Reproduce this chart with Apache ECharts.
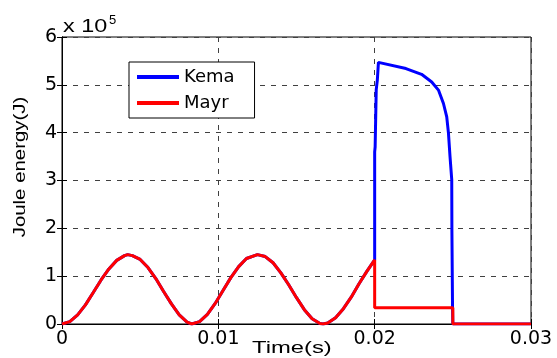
<!DOCTYPE html>
<html>
<head>
<meta charset="utf-8">
<script src="https://cdn.jsdelivr.net/npm/echarts@6/dist/echarts.min.js"></script>
<style>
  html, body { margin: 0; padding: 0; background: #fff; }
  #chart { width: 557px; height: 358px; }
</style>
</head>
<body>
<div id="chart"></div>
<script>
// values in units of 1e5 J
// common part (both models overlap up to t = 0.02 s)
const sharedT = [0, 0.0005, 0.001, 0.0015, 0.002, 0.0025, 0.003, 0.0035, 0.004, 0.0042, 0.0045, 0.005, 0.0055, 0.006, 0.0065, 0.007, 0.0075, 0.008, 0.0083,
  0.0088, 0.0093, 0.0098, 0.0103, 0.0108, 0.0113, 0.0118, 0.0125, 0.013, 0.0135, 0.014, 0.0145, 0.015, 0.0155, 0.016, 0.0165, 0.0167,
  0.017, 0.0175, 0.018, 0.0185, 0.019, 0.0195, 0.02]
const sharedV = [0, 0.05, 0.19, 0.40, 0.66, 0.92, 1.15, 1.33, 1.43, 1.45, 1.43, 1.35, 1.18, 0.95, 0.68, 0.42, 0.19, 0.04, 0,
  0.05, 0.20, 0.43, 0.70, 0.97, 1.20, 1.37, 1.45, 1.41, 1.28, 1.07, 0.82, 0.55, 0.30, 0.11, 0.01, 0,
  0.02, 0.13, 0.32, 0.56, 0.84, 1.10, 1.34]

const kemaTailT = [0.02, 0.02003, 0.0201, 0.02017, 0.02024, 0.022, 0.023, 0.02365, 0.02408, 0.0244, 0.02461, 0.02472, 0.02482, 0.02493, 0.02494, 0.02498, 0.025, 0.03]
const kemaTailV = [3.6, 3.7, 4.9, 5.1, 5.47, 5.34, 5.22, 5.06, 4.89, 4.61, 4.33, 3.99, 3.5, 3.02, 1.97, 0.37, 0, 0]

const mayrTailT = [0.02, 0.025, 0.025, 0.03]
const mayrTailV = [0.34, 0.34, 0, 0]

const xTicks = [0, 0.01, 0.02, 0.03]
const yTicks = [0, 1, 2, 3, 4, 5, 6]

function pairs(t, v) {
  return t.map((x, i) => [x, v[i]])
}

const kemaData = pairs(sharedT, sharedV).concat(pairs(kemaTailT, kemaTailV))
const mayrData = pairs(sharedT, sharedV).concat(pairs(mayrTailT, mayrTailV))

const font = 'Liberation Sans, Arial, sans-serif'
const labelFont = 'DejaVu Sans, sans-serif'
const gridLine = { show: true, lineStyle: { color: '#404040', type: [5, 6], width: 1 } }
const boxTick = { show: true, inside: true, length: 5, lineStyle: { color: '#000' } }

let myChart = echarts.init(document.getElementById('chart'), null, { renderer: 'canvas' })

let option = {
  animation: false,
  backgroundColor: '#fff',
  grid: {
    left: 62, right: 26, top: 37, bottom: 34,
    show: true, borderColor: '#000', borderWidth: 1
  },
  legend: {
    orient: 'vertical',
    left: 129, top: 62,
    padding: [6, 20, 6, 8],
    itemGap: 8,
    itemWidth: 42,
    itemHeight: 4,
    icon: 'rect',
    backgroundColor: '#fff',
    borderColor: '#000',
    borderWidth: 1,
    borderRadius: 0,
    textStyle: { fontFamily: labelFont, fontSize: 18, color: '#000', padding: [0, 0, 0, 0] },
    data: ['Kema', 'Mayr']
  },
  xAxis: [{
    type: 'value',
    min: xTicks[0], max: xTicks[xTicks.length - 1], interval: 0.01,
    axisLine: { show: true, lineStyle: { color: '#000' } },
    axisTick: boxTick,
    axisLabel: { fontFamily: labelFont, fontSize: 19, color: '#000', margin: 6 },
    splitLine: gridLine
  }, {
    type: 'value', position: 'top',
    min: 0, max: 0.03, interval: 0.01,
    axisLine: { show: true, lineStyle: { color: '#000' } },
    axisTick: boxTick,
    axisLabel: { show: false },
    splitLine: { show: false }
  }],
  yAxis: [{
    type: 'value',
    min: yTicks[0], max: yTicks[yTicks.length - 1], interval: 1,
    axisLine: { show: true, lineStyle: { color: '#000' } },
    axisTick: boxTick,
    axisLabel: { fontFamily: labelFont, fontSize: 19, color: '#000', margin: 5 },
    splitLine: gridLine
  }, {
    type: 'value', position: 'right',
    min: 0, max: 6, interval: 1,
    axisLine: { show: true, lineStyle: { color: '#000' } },
    axisTick: boxTick,
    axisLabel: { show: false },
    splitLine: { show: false }
  }],
  graphic: [
    { type: 'text', x: 63, y: 27, scaleX: 1.3, style: { text: 'x 10', font: '18px ' + font, fill: '#000', verticalAlign: 'middle' } },
    { type: 'text', x: 109, y: 20, style: { text: '5', font: '13px ' + font, fill: '#000', verticalAlign: 'middle' } },
    { type: 'text', x: 252, y: 348, scaleX: 1.4, style: { text: 'Time(s)', font: '17px ' + font, fill: '#000', verticalAlign: 'middle' } },
    {
      type: 'text', x: 20, y: 167, rotation: Math.PI / 2, scaleX: 1.2,
      style: { text: 'Joule energy(J)', font: '17px ' + font, fill: '#000', align: 'center', verticalAlign: 'middle' }
    }
  ],
  series: [{
    name: 'Kema',
    type: 'line',
    data: kemaData,
    showSymbol: false,
    color: '#0000ff',
    lineStyle: { color: '#0000ff', width: 3 },
    z: 2
  }, {
    name: 'Mayr',
    type: 'line',
    data: mayrData,
    showSymbol: false,
    color: '#ff0000',
    lineStyle: { color: '#ff0000', width: 3 },
    z: 3
  }]
}

myChart.setOption(option)
</script>
</body>
</html>
